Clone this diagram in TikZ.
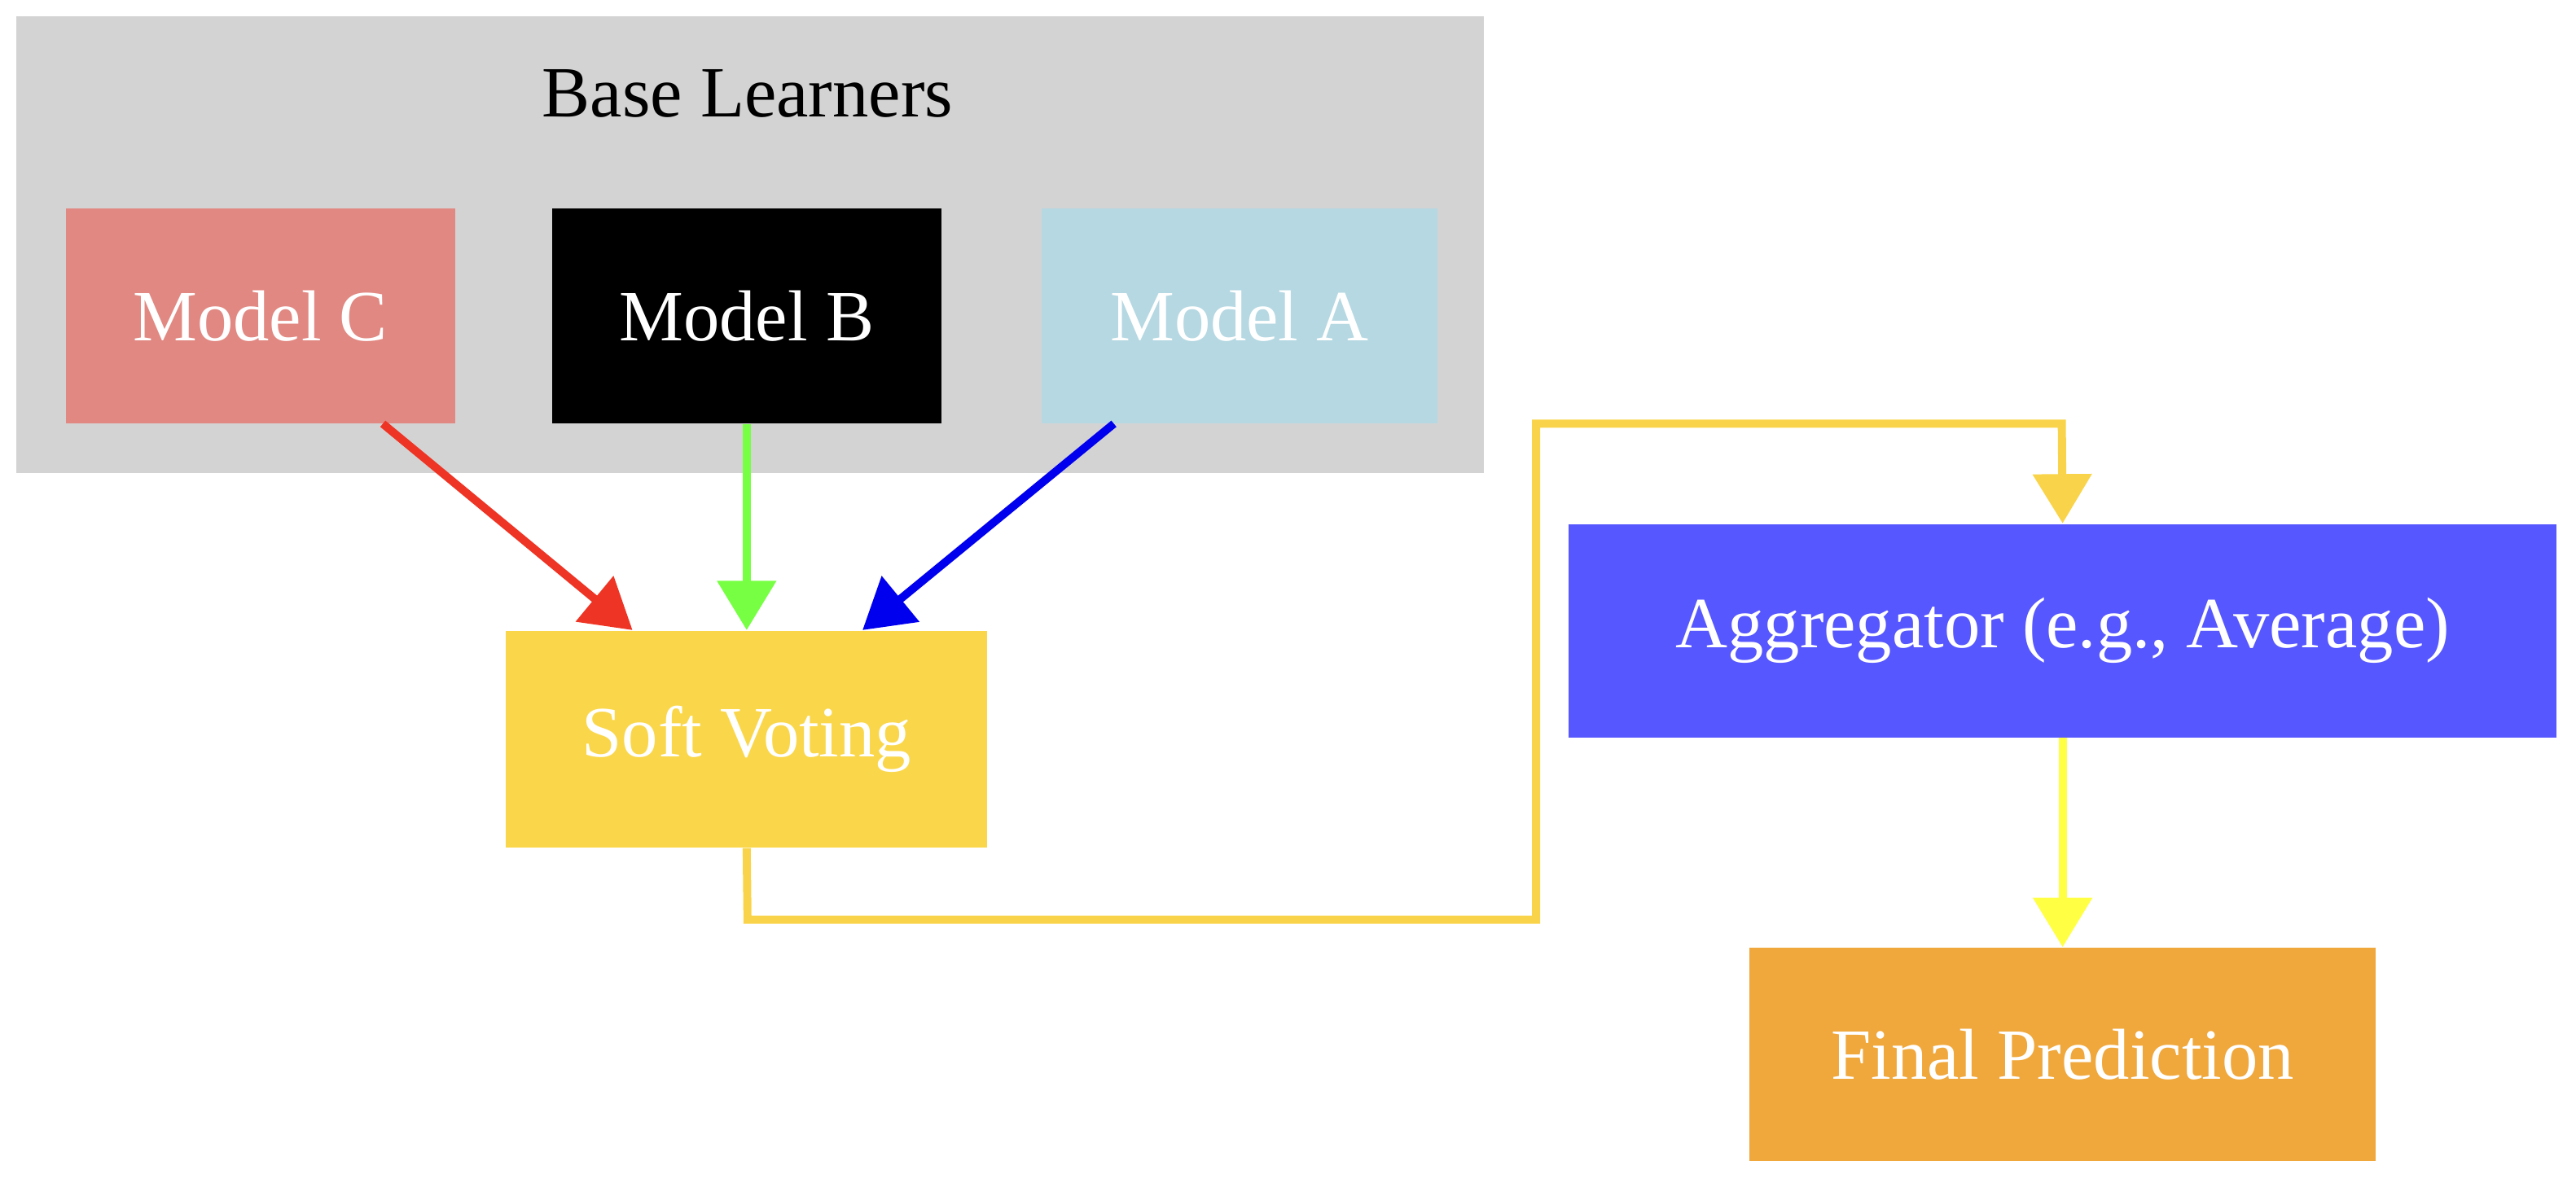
\documentclass[tikz,border=0pt]{standalone}
\usepackage{fontspec}
\setmainfont{Liberation Serif}
\usetikzlibrary{arrows.meta}
\definecolor{cl}{HTML}{D3D3D3}
\definecolor{mc}{HTML}{E28882}
\definecolor{ma}{HTML}{B5D8E2}
\definecolor{sv}{HTML}{FAD74A}
\definecolor{ag}{HTML}{5757FF}
\definecolor{fp}{HTML}{F0A83C}
\definecolor{ye}{HTML}{F9D44A}
\definecolor{ly}{HTML}{FFFF44}
\definecolor{rd}{HTML}{EE3424}
\definecolor{gr}{HTML}{77FF44}
\definecolor{bl}{HTML}{0000EE}
\begin{document}
\begin{tikzpicture}[x=0.02cm,y=-0.02cm,
  box/.style={draw=none,minimum width=#1*0.02cm,minimum height=131*0.02cm,inner sep=0pt,text=white,font=\fontsize{25}{30}\selectfont},
  ar/.style={line width=2.8pt,-{Triangle[length=0.6cm,width=0.7cm]}}]
\useasboundingbox (0,0) rectangle (1568,720);
\fill[cl] (10,10) rectangle (903,288);
\node[font=\fontsize{25}{30}\selectfont] (bl) at (455,57) {Base Learners};
\node[box=237,fill=mc] (c) at (158.5,192.5) {Model C};
\node[box=237,fill=black] (b) at (454.5,192.5) {Model B};
\node[box=241,fill=ma] (a) at (754.5,192.5) {Model A};
\node[box=293,minimum height=132*0.02cm,fill=sv] (s) at (454.5,450) {Soft Voting};
\node[box=601,minimum height=130*0.02cm,fill=ag] (g) at (1255.5,384) {Aggregator (e.g., Average)};
\node[box=381,minimum height=130*0.02cm,fill=fp] (f) at (1255.5,642) {Final Prediction};
\draw[ar,rd] (233,258) -- (s.north west -| 385,0) ;
\draw[ar,gr] (b.south) -- (s.north);
\draw[ar,bl] (678,258) -- (s.north east -| 525,0);
\draw[ar,ye] (s.south) -- (455,560) -- (935,560) -- (935,258) -- (1255,258) -- (g.north);
\draw[ar,ly] (g.south) -- (f.north);
\end{tikzpicture}
\end{document}
